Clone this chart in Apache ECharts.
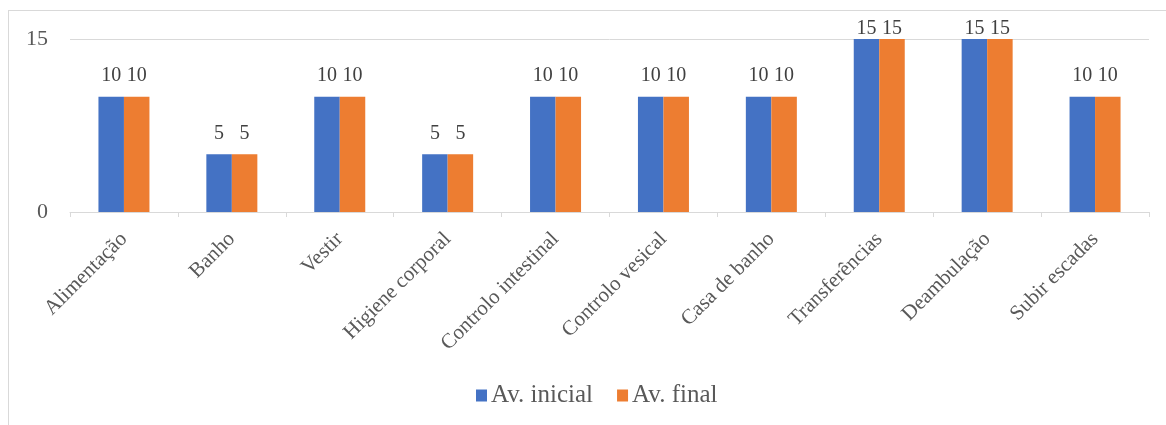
<!DOCTYPE html>
<html>
<head>
<meta charset="utf-8">
<script src="https://cdn.jsdelivr.net/npm/echarts@6/dist/echarts.min.js"></script>
<style>
  html, body { margin: 0; padding: 0; background: #fff; overflow: hidden; }
  #frame { position: absolute; left: 8px; top: 10px; width: 1200px; height: 500px; border: 1px solid #d9d9d9; box-sizing: border-box; }
  #chart { position: absolute; left: 0; top: 0; width: 1166px; height: 425px; }
</style>
</head>
<body>
<div id="frame"></div>
<div id="chart"></div>
<script>
// Barthel index items, scores at the initial and final assessment
const categories = ['Alimentação', 'Banho', 'Vestir', 'Higiene corporal', 'Controlo intestinal',
  'Controlo vesical', 'Casa de banho', 'Transferências', 'Deambulação', 'Subir escadas'];
const avInicial = [10, 5, 10, 5, 10, 10, 10, 15, 15, 10];
const avFinal = [10, 5, 10, 5, 10, 10, 10, 15, 15, 10];
const seriesNames = ['Av. inicial', 'Av. final'];

const yMax = 15;
const textColor = '#595959';
const font = '"Liberation Serif", "Times New Roman", serif';

// labels on full-height bars sit tighter so they stay inside the frame
const withLabels = values => values.map(v => ({
  value: v,
  label: { distance: v >= yMax ? 0 : 11 }
}));

const chart = echarts.init(document.getElementById('chart'));
const labelOpt = {
  show: true, position: 'top',
  color: '#404040', fontFamily: font, fontSize: 20
};
chart.setOption({
  animation: false,
  grid: { left: 70, right: 17, top: 39, bottom: 213, containLabel: false },
  legend: {
    top: 378, left: 471,
    itemWidth: 11, itemHeight: 12, itemGap: 24,
    icon: 'rect',
    textStyle: { color: textColor, fontFamily: font, fontSize: 25, padding: [0, 0, 0, -1] },
    data: seriesNames
  },
  xAxis: {
    type: 'category',
    data: categories,
    axisLine: { lineStyle: { color: '#d9d9d9', width: 1 } },
    axisTick: { show: true, length: 5, lineStyle: { color: '#d9d9d9' } },
    axisLabel: {
      rotate: 45, interval: 0, margin: 24,
      color: textColor, fontFamily: font, fontSize: 21
    }
  },
  yAxis: {
    type: 'value', min: 0, max: yMax, interval: 15,
    axisLine: { show: false }, axisTick: { show: false },
    splitLine: { lineStyle: { color: '#d9d9d9', width: 1 } },
    axisLabel: { color: textColor, fontFamily: font, fontSize: 22, margin: 22 }
  },
  series: [
    { name: seriesNames[0], type: 'bar', data: withLabels(avInicial), barWidth: 25.5, barGap: '0%',
      itemStyle: { color: '#4472c4' }, label: labelOpt },
    { name: seriesNames[1], type: 'bar', data: withLabels(avFinal), barWidth: 25.5,
      itemStyle: { color: '#ed7d31' }, label: labelOpt }
  ]
});
</script>
</body>
</html>
